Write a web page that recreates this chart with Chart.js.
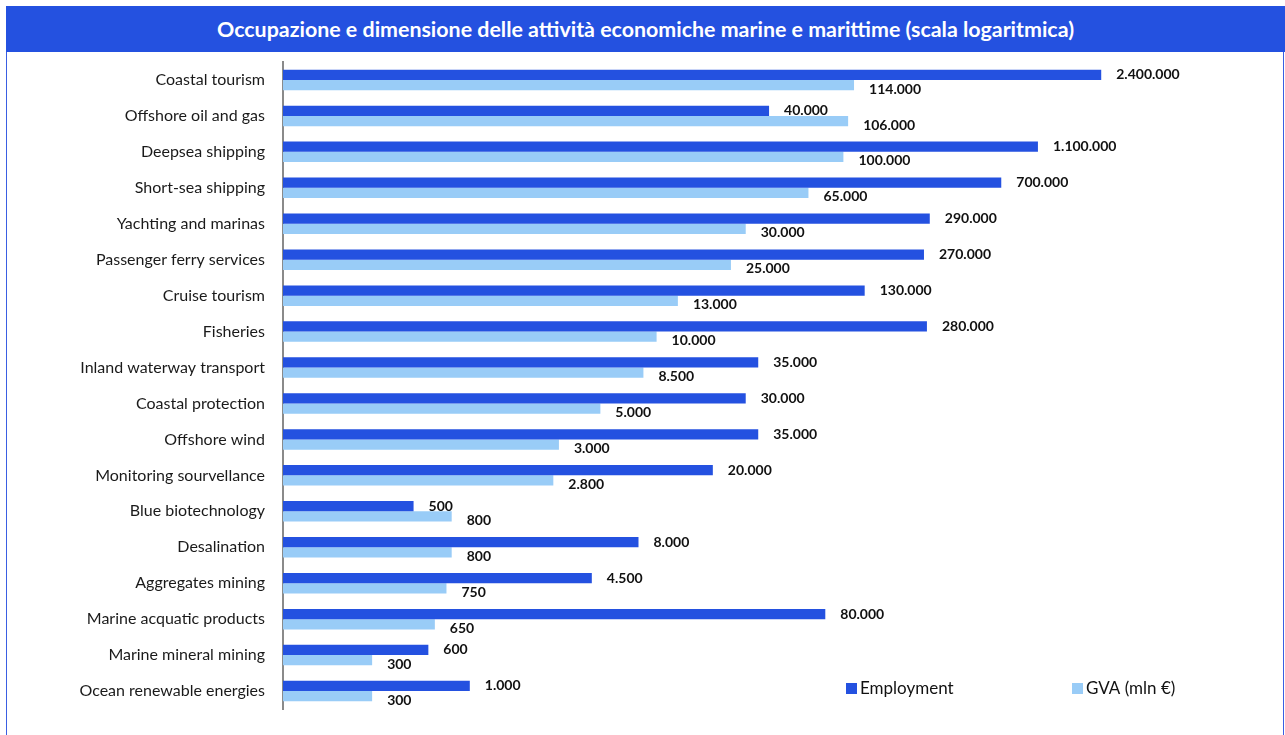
<!DOCTYPE html>
<html lang="it">
<head>
  <meta charset="UTF-8" />
  <title>Attività economiche marine e marittime</title>
  <script src="https://cdn.jsdelivr.net/npm/chart.js"></script>
  <style>
    body {
      margin: 0;
      width: 1285px;
      height: 735px;
      overflow: hidden;
      background: #ffffff;
      font-family: Lato, "Open Sans", sans-serif;
      position: relative;
    }
    /* thin blue frame around the chart */
    .frame {
      position: absolute;
      left: 6px;
      top: 6px;
      width: 1276px;
      height: 760px;
      border: 1px solid #3a5ee2;
    }
    .title {
      position: absolute;
      left: 6px;
      top: 6px;
      right: 0;
      height: 46px;
      line-height: 46px;
      background: #2451e0;
      color: #ffffff;
      font-weight: bold;
      font-size: 21.4px;
      text-align: center;
    }
    .chart-box {
      position: absolute;
      left: 7px;
      top: 53px;
      width: 1276px;
      height: 682px;
    }
  </style>
</head>
<body>
  <div class="frame"></div>
  <div class="title">Occupazione e dimensione delle attività economiche marine e marittime (scala logaritmica)</div>
  <div class="chart-box">
    <canvas id="marineChart" width="1276" height="682"></canvas>
  </div>

  <script>
    const sectors = [
      'Coastal tourism', 'Offshore oil and gas', 'Deepsea shipping', 'Short-sea shipping',
      'Yachting and marinas', 'Passenger ferry services', 'Cruise tourism', 'Fisheries',
      'Inland waterway transport', 'Coastal protection', 'Offshore wind', 'Monitoring sourvellance',
      'Blue biotechnology', 'Desalination', 'Aggregates mining', 'Marine acquatic products',
      'Marine mineral mining', 'Ocean renewable energies'
    ];
    const employment = [2400000, 40000, 1100000, 700000, 290000, 270000, 130000, 280000,
      35000, 30000, 35000, 20000, 500, 8000, 4500, 80000, 600, 1000];
    const gva = [114000, 106000, 100000, 65000, 30000, 25000, 13000, 10000,
      8500, 5000, 3000, 2800, 800, 800, 750, 650, 300, 300];
    const seriesNames = ['Employment', 'GVA (mln €)'];

    const DARK = '#2451e0';
    const LIGHT = '#99ccf7';

    // 2400000 -> "2.400.000"
    function fmt(v) {
      return String(v).replace(/\B(?=(\d{3})+(?!\d))/g, '.');
    }

    // value labels to the right of every bar
    const barLabels = {
      id: 'barLabels',
      afterDatasetsDraw(chart) {
        const ctx = chart.ctx;
        ctx.save();
        ctx.font = 'bold 14px Lato, "Open Sans", sans-serif';
        ctx.fillStyle = '#111111';
        ctx.textBaseline = 'middle';
        ctx.textAlign = 'left';
        chart.data.datasets.forEach((ds, i) => {
          const meta = chart.getDatasetMeta(i);
          const dy = i === 0 ? 0 : 4;
          meta.data.forEach((bar, j) => {
            ctx.fillText(fmt(ds.data[j]), bar.x + 15, bar.y + dy);
          });
        });
        ctx.restore();
      }
    };

    // legend sitting in the lower right of the plot
    const cornerLegend = {
      id: 'cornerLegend',
      afterDraw(chart) {
        const ctx = chart.ctx;
        const xs = [839, 1065];
        const y = 635;
        ctx.save();
        ctx.font = '17px Lato, "Open Sans", sans-serif';
        ctx.textBaseline = 'middle';
        chart.data.datasets.forEach((ds, i) => {
          ctx.fillStyle = ds.backgroundColor;
          ctx.fillRect(xs[i], y - 5, 11, 11);
          ctx.fillStyle = '#111111';
          ctx.fillText(ds.label, xs[i] + 14, y + 1);
        });
        ctx.restore();
      }
    };

    new Chart(document.getElementById('marineChart'), {
      type: 'bar',
      data: {
        labels: sectors,
        datasets: [
          { label: seriesNames[0], data: employment, backgroundColor: DARK },
          { label: seriesNames[1], data: gva, backgroundColor: LIGHT }
        ]
      },
      options: {
        indexAxis: 'y',
        responsive: false,
        animation: false,
        devicePixelRatio: 1,
        layout: { padding: { left: 0, right: 66, top: 9, bottom: 26 } },
        datasets: {
          bar: { categoryPercentage: 0.57, barPercentage: 1.0 }
        },
        scales: {
          x: {
            type: 'logarithmic',
            min: 100,
            max: 10000000,
            display: false
          },
          y: {
            grid: { display: false },
            border: { display: true, color: '#8a8a8a', width: 2 },
            ticks: {
              color: '#1a1a1a',
              font: { family: 'Lato, "Open Sans", sans-serif', size: 16 },
              padding: 10,
              autoSkip: false
            },
            afterFit(scale) {
              // fixed label column, no extra room for label overflow
              scale.width = 276;
              scale.paddingTop = 0;
              scale.paddingBottom = 0;
            }
          }
        },
        plugins: {
          legend: { display: false },
          tooltip: { enabled: false }
        }
      },
      plugins: [barLabels, cornerLegend]
    });
  </script>
</body>
</html>
